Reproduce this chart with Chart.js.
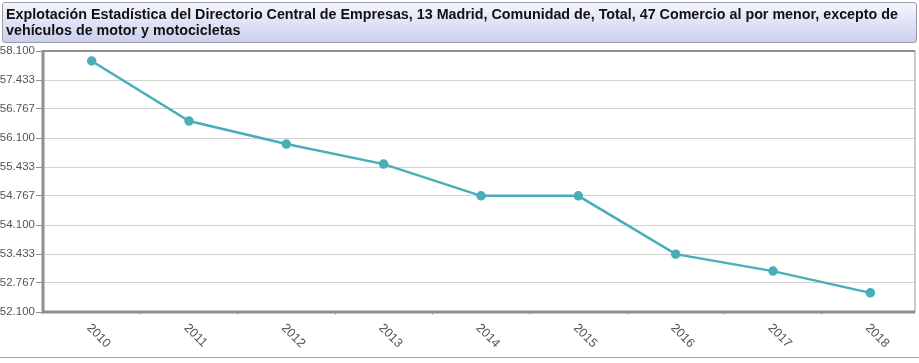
<!DOCTYPE html>
<html>
<head>
<meta charset="utf-8">
<script src="https://cdn.jsdelivr.net/npm/chart.js@4"></script>
<style>
  html, body { margin: 0; padding: 0; background: #fff; }
  #wrap { position: relative; width: 919px; height: 363px; overflow: hidden; }
  #title {
    position: absolute; left: 2px; top: 2px; width: 910px; height: 36px;
    border: 1px solid #9a9ca8; border-radius: 3px;
    background: linear-gradient(to bottom, #f4f5fc 0%, #dfe3f7 50%, #c9d0ef 100%);
    font-family: 'Liberation Sans', Arial, sans-serif; font-weight: bold; font-size: 14.3px;
    line-height: 16px; color: #111; padding: 3px 0 0 3px; box-sizing: content-box;
  }
  #bottomline { position: absolute; left: 0; top: 357px; width: 919px; height: 1px; background: #a0a0a0; }
  canvas { position: absolute; left: 0; top: 0; }
</style>
</head>
<body>
<div id="wrap">
  <canvas id="chart" width="919" height="363"></canvas>
  <div id="title">Explotación Estadística del Directorio Central de Empresas, 13 Madrid, Comunidad de, Total, 47 Comercio al por menor, excepto de vehículos de motor y motocicletas</div>
  <div id="bottomline"></div>
</div>
<script>
const years = ['2010', '2011', '2012', '2013', '2014', '2015', '2016', '2017', '2018'];
const values = [57.87, 56.49, 55.96, 55.50, 54.77, 54.77, 53.43, 53.04, 52.54];
const yTicks = [52.100, 52.767, 53.433, 54.100, 54.767, 55.433, 56.100, 56.767, 57.433, 58.100];

const FRAME_RIGHT = 915;

// caja del área de trazado (borde gris, más grueso a la izquierda y abajo)
const frame = {
  id: 'frame',
  afterDraw(chart) {
    const { ctx, chartArea: a } = chart;
    const r = Math.min(a.right, FRAME_RIGHT);
    ctx.save();
    // la rejilla termina en el borde derecho de la caja
    ctx.fillStyle = '#fff';
    ctx.fillRect(r, a.top - 2, chart.width - r, a.bottom - a.top + 6);
    ctx.strokeStyle = '#9a9a9a';
    ctx.lineWidth = 1;
    ctx.strokeRect(a.left, a.top, r - a.left, a.bottom - a.top);
    ctx.lineWidth = 3;
    ctx.strokeStyle = '#8e8e8e';
    ctx.beginPath();
    ctx.moveTo(a.left, a.top - 1);
    ctx.lineTo(a.left, a.bottom);
    ctx.lineTo(r, a.bottom);
    ctx.stroke();
    ctx.lineWidth = 2;
    ctx.beginPath();
    ctx.moveTo(a.left, a.top);
    ctx.lineTo(r, a.top);
    ctx.stroke();
    // etiquetas del eje x giradas 45° en sentido horario
    const xs = chart.scales.x;
    ctx.fillStyle = '#555';
    ctx.font = "12.5px 'Liberation Sans', Arial, sans-serif";
    ctx.textBaseline = 'middle';
    ctx.textAlign = 'left';
    years.forEach((y, i) => {
      const px = xs.getPixelForValue(i);
      ctx.save();
      ctx.translate(px - 3, a.bottom + 14);
      ctx.rotate(Math.PI / 4);
      ctx.fillText(y, 0, 0);
      ctx.restore();
    });
    ctx.restore();
  }
};

const ctx = document.getElementById('chart').getContext('2d');
new Chart(ctx, {
  type: 'line',
  data: {
    labels: years,
    datasets: [{
      data: values,
      borderColor: '#48aeb9',
      backgroundColor: '#48aeb9',
      borderWidth: 2.5,
      pointRadius: 3.5,
      pointHoverRadius: 4,
      tension: 0,
      fill: false
    }]
  },
  options: {
    responsive: false,
    animation: false,
    layout: { autoPadding: false, padding: { top: 51, right: 0, bottom: 0, left: 0 } },
    plugins: { legend: { display: false }, title: { display: false }, tooltip: { enabled: false } },
    scales: {
      x: {
        offset: true,
        afterFit: (s) => { s.height = 51; },
        grid: { display: true, drawOnChartArea: false, tickLength: 3, color: '#c8c8c8', offset: true },
        border: { display: false },
        ticks: { display: false }
      },
      y: {
        min: 52.1, max: 58.1,
        afterFit: (s) => { s.width = 43; },
        afterBuildTicks: (s) => { s.ticks = yTicks.map(v => ({ value: v })); },
        grid: { color: '#d2d2d2', tickLength: 7, tickColor: '#8e8e8e', lineWidth: 1 },
        border: { display: false },
        ticks: {
          color: '#555',
          font: { family: "'Liberation Sans', Arial, sans-serif", size: 11.5 },
          padding: 1,
          callback: (v) => Number(v).toFixed(3)
        }
      }
    }
  },
  plugins: [frame]
});
</script>
</body>
</html>
